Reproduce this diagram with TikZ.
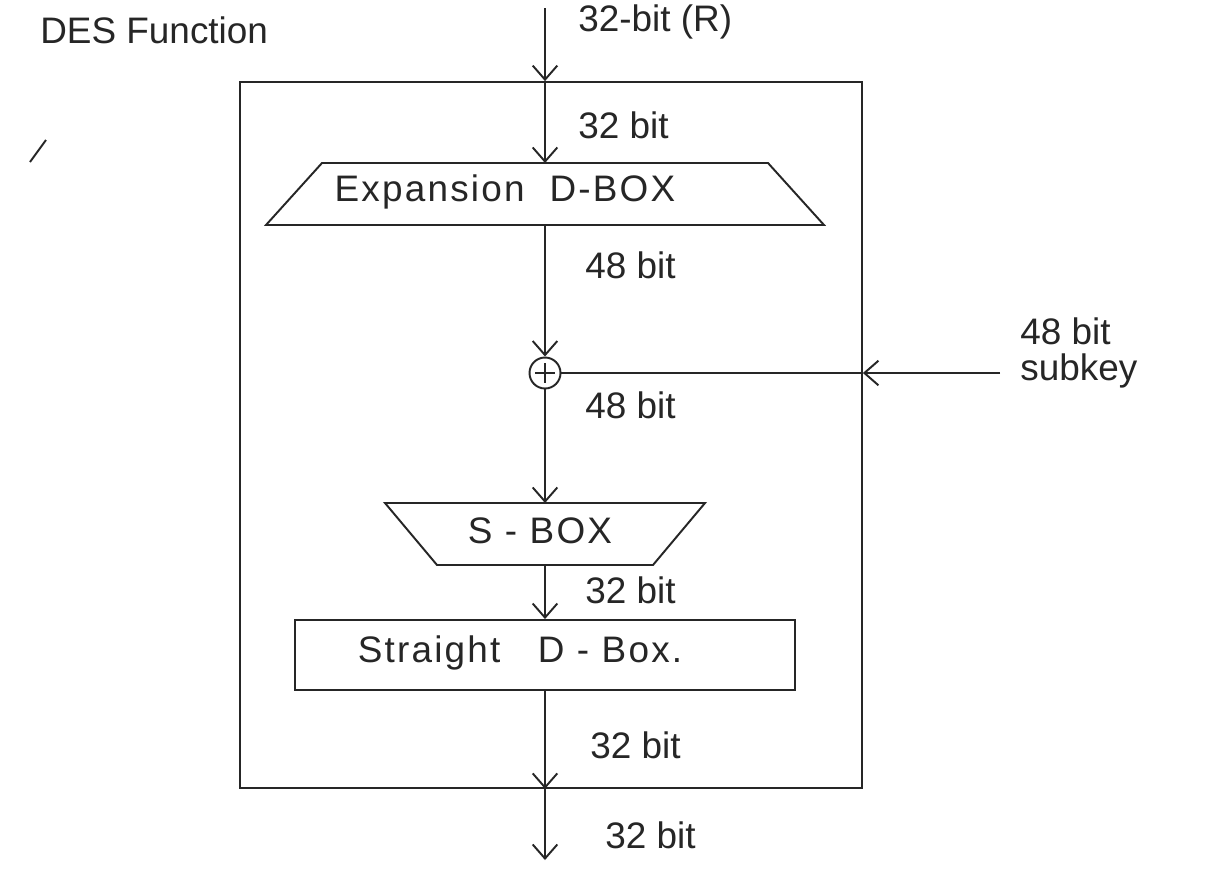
\documentclass[tikz,border=0pt]{standalone}
\usepackage{fontspec}
\setmainfont{Liberation Sans}
\usetikzlibrary{arrows.meta,calc}
\begin{document}
\begin{tikzpicture}[x=0.02cm,y=-0.02cm,
  ink/.style={draw=black!85, line width=1.1pt},
  arr/.style={ink, -{Straight Barb[length=8pt,width=14pt,line width=1.1pt]}},
  lbl/.style={font=\fontsize{21}{21}\selectfont, text=black!85, inner sep=0pt, anchor=west},
  boxtext/.style={font=\fontsize{21}{25}\selectfont\addfontfeatures{LetterSpace=6}, text=black!85, inner sep=0pt}
]
\useasboundingbox[fill=white] (0,0) rectangle (1223,876);

% outer frame
\node[ink, rectangle, minimum width=12.44cm, minimum height=14.12cm, inner sep=0pt] (outer) at (551,435) {};

% expansion D-box (trapezium, wider at the bottom)
\coordinate (expBL) at (266,225);
\coordinate (expTL) at (322,163);
\coordinate (expTR) at (768,163);
\coordinate (expBR) at (824,225);
\draw[ink] (expBL) -- (expTL) -- (expTR) -- (expBR) -- cycle;
\coordinate (expT) at (545,163);
\coordinate (expB) at (545,225);
\node[boxtext] (exp) at (505,192) {Expansion\ \ D-BOX};

% XOR
\node[ink, circle, minimum size=0.62cm, inner sep=0pt] (xor) at (545,373) {};
\draw[ink] ($(xor.center)+(0,-10)$) -- ($(xor.center)+(0,10)$);
\draw[ink] ($(xor.center)+(-10,0)$) -- ($(xor.center)+(10,0)$);

% S-box (trapezium, wider at the top)
\coordinate (sTL) at (385,503);
\coordinate (sTR) at (705,503);
\coordinate (sBR) at (653,565);
\coordinate (sBL) at (437,565);
\draw[ink] (sTL) -- (sTR) -- (sBR) -- (sBL) -- cycle;
\coordinate (sT) at (545,503);
\coordinate (sB) at (545,565);
\node[boxtext] (sbox) at (540,531) {S - BOX};

% straight D-box
\node[ink, rectangle, minimum width=10cm, minimum height=1.4cm, inner sep=0pt] (pbox) at (545,655) {};
\node[boxtext] (pboxt) at (520,653) {Straight\ \ \ D - Box.};

% free ends
\coordinate (in) at (545,8);
\coordinate (sk) at (1000,373);
\coordinate (out) at (545,860);
\coordinate (topcross) at (in |- outer.north);
\coordinate (skcross) at (sk -| outer.east);
\coordinate (botcross) at (pbox.south |- outer.south);

% connectors
\draw[arr] (in) -- (topcross);
\draw[arr] (topcross) -- (expT);
\draw[arr] (expB) -- (xor.north);
\draw[arr] (sk) -- (skcross);
\draw[ink] (skcross) -- (xor.east);
\draw[arr] (xor.south) -- (sT);
\draw[arr] (sB) -- (pbox.north);
\draw[arr] (pbox.south) -- (botcross);
\draw[arr] (botcross) -- (out);

% labels
\node[lbl] (tDES) at (40,30) {DES Function};
\node[lbl] (tR) at (578,22) {32-bit (R)};
\node[lbl] (t1) at (578,125) {32 bit};
\node[lbl] (t2) at (585,265) {48 bit};
\node[lbl, align=left] (tsk) at (1020,353) {48 bit\\subkey};
\node[lbl] (t3) at (585,405) {48 bit};
\node[lbl] (t4) at (585,590) {32 bit};
\node[lbl] (t5) at (590,745) {32 bit};
\node[lbl] (t6) at (605,835) {32 bit};

% stray pen mark
\draw[ink] (30,162) -- (46,140);
\end{tikzpicture}
\end{document}
